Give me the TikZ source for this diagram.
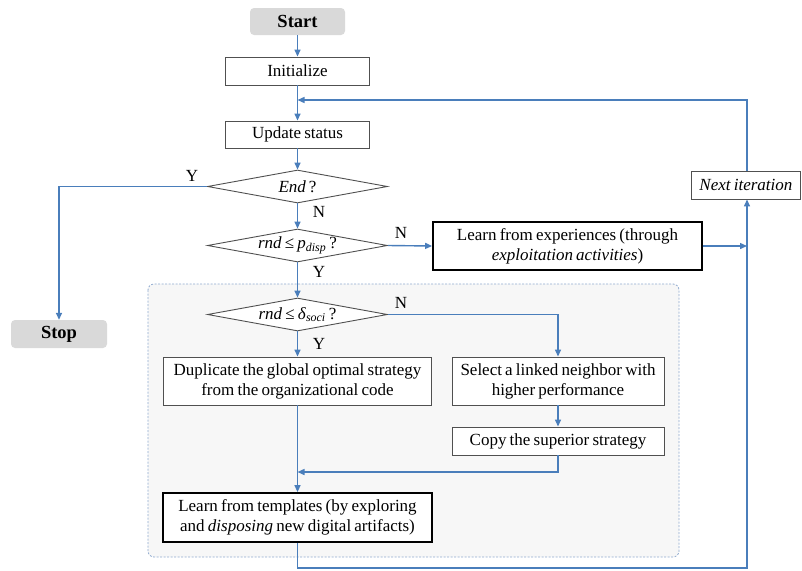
\documentclass[tikz,border=0pt]{standalone}
\usepackage{fontspec}
\setmainfont{Liberation Serif}[WordSpace=0.75]
\usetikzlibrary{arrows.meta,shapes.geometric}
\definecolor{conncol}{HTML}{4A7EBB}
\definecolor{termfill}{HTML}{D9D9D9}
\definecolor{boxline}{HTML}{505050}
\definecolor{bgfill}{HTML}{F7F7F7}
\definecolor{bgline}{HTML}{8FAACF}
\begin{document}
\begin{tikzpicture}[x=1pt,y=-1pt,
  every node/.style={font=\fontsize{17}{20}\selectfont},
  proc/.style={draw=boxline, line width=0.9pt, fill=white, inner sep=0pt, align=center},
  thickbox/.style={draw=black, line width=1.8pt, fill=white, inner sep=0pt, align=center},
  term/.style={fill=termfill, rounded corners=4pt, inner sep=0pt, font=\fontsize{18.5}{20}\selectfont\bfseries},
  dia/.style={diamond, draw=boxline, line width=0.9pt, fill=white, inner sep=0pt, minimum width=180pt, minimum height=33pt},
  conn/.style={draw=conncol, line width=1.4pt},
  arr/.style={conn, -{Triangle[length=7pt,width=6pt]}},
  lbl/.style={inner sep=0pt}
]
\useasboundingbox (0,0) rectangle (802,570);
% background group
\draw[draw=bgline, line width=0.8pt, dash pattern=on 2pt off 1.5pt, fill=bgfill, rounded corners=6pt] (148,284) rectangle (679,557);

% nodes
\node[term, minimum width=95pt, minimum height=27pt] (start) at (297.5,21.5) {Start};
\node[proc, minimum width=144pt, minimum height=28pt] (init) at (297.5,71) {Initialize};
\node[proc, minimum width=144pt, minimum height=27pt] (upd) at (297.5,134.5) {Update status};
\node[dia, label=center:{\textit{End}\,?}] (d1) at (297.5,186.5) {};
\node[dia, label=center:{\textit{rnd} ≤ \textit{p}\textsubscript{\textit{disp}} ?}] (d2) at (297.5,245.5) {};
\node[dia, label=center:{\textit{rnd} ≤ \textit{δ}\textsubscript{\textit{soci}} ?}] (d3) at (297.5,314.5) {};
\node[term, minimum width=96pt, minimum height=28pt] (stop) at (59,334) {Stop};
\node[thickbox, minimum width=269pt, minimum height=48pt] (lexp) at (567.5,246) {Learn from experiences (through\\\textit{exploitation activities})};
\node[proc, anchor=west, minimum height=28pt, inner xsep=8pt] (nexti) at (691,185) {\textit{Next iteration}};
\node[proc, minimum width=268pt, minimum height=48pt] (dup) at (297.5,381) {Duplicate the global optimal strategy\\from the organizational code};
\node[proc, minimum width=212pt, minimum height=48pt] (sel) at (558,381) {Select a linked neighbor with\\higher performance};
\node[proc, minimum width=212pt, minimum height=28pt] (copy) at (558,441) {Copy the superior strategy};
\node[thickbox, minimum width=269pt, minimum height=49pt] (ltmp) at (297.5,517.5) {Learn from templates (by exploring\\and \textit{disposing} new digital artifacts)};

% helper coordinates
\coordinate (rx) at (747,0);
\coordinate (loop) at (297.5,100);
\coordinate (mrg) at (297.5,472);
\coordinate (bot) at (747,568);

% connectors
\draw[arr] (start.south) -- (init.north);
\draw[arr] (init.south) -- (upd.north);
\draw[arr] (nexti.north -| rx) |- (loop);
\draw[arr] (upd.south) -- (d1.north);
\draw[arr] (d1.west) -| (stop.north);
\draw[arr] (d1.south) -- (d2.north);
\draw[arr] (d2.east) -- (lexp.west);
\draw[arr] (lexp.east) -- (rx |- lexp.east);
\draw[arr] (d2.south) -- (d3.north);
\draw[arr] (d3.east) -| (sel.north);
\draw[arr] (d3.south) -- (dup.north);
\draw[arr] (sel.south) -- (copy.north);
\draw[arr] (copy.south) |- (mrg);
\draw[arr] (dup.south) -- (ltmp.north);
\draw[arr] (ltmp.south) |- (bot) -- (nexti.south -| rx);

% labels
\node[lbl] (ly1) at (192,176) {Y};
\node[lbl] (ln1) at (319,212) {N};
\node[lbl] (ln2) at (401,233) {N};
\node[lbl] (ly2) at (319,272) {Y};
\node[lbl] (ln3) at (401,303) {N};
\node[lbl] (ly3) at (319,344) {Y};
\end{tikzpicture}
\end{document}
